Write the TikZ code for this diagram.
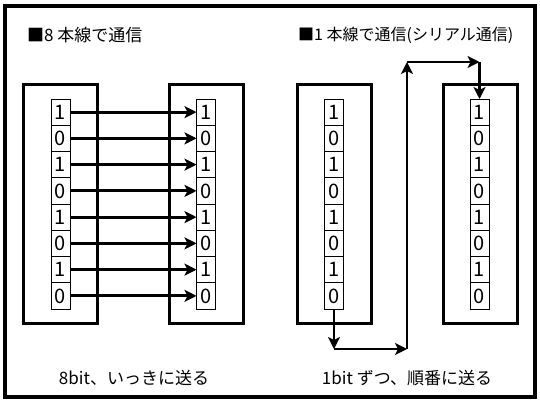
\documentclass[tikz,border=0pt]{standalone}
\usepackage{fontspec}
\setmainfont{Noto Sans CJK JP}
\usetikzlibrary{positioning}
\usetikzlibrary{arrows.meta}
\tikzset{
unitbox/.style={rectangle, draw=black, line width=3pt, minimum width=74pt, minimum height=238pt},
bitcell/.style={rectangle, draw=black, fill=white, line width=0.8pt, minimum width=19pt, minimum height=26.25pt, inner sep=0pt, outer sep=0pt, font=\fontsize{20}{20}\selectfont},
wire/.style={line width=2.8pt, -{Stealth[length=12pt,width=12pt,inset=3pt]}},
caption/.style={font=\fontsize{17}{17}\selectfont, inner sep=0pt}
}

\begin{document}
\begin{tikzpicture}[x=1pt, y=1pt]
\useasboundingbox (0,0) rectangle (540,402);
%Frame
\draw[line width=4pt] (5,5) rectangle (535,396);

%Nodes
\node[unitbox] (send8) at (60,198) {};
\node[unitbox] (recv8) at (206,198) {};
\node[unitbox] (send1) at (334,198) {};
\node[unitbox] (recv1) at (480,198) {};
\foreach \col/\x in {a/60.5, b/206, c/334, d/479.5}
  \foreach \b [count=\i] in {1,0,1,0,1,0,1,0}
    \node[bitcell] (\col\i) at (\x, {316.125-26.25*\i}) {\b};
\node[caption, anchor=west] (title8) at (27,367) {■8 本線で通信};
\node[caption, anchor=west, font=\fontsize{16}{16}\selectfont] (title1) at (298,367) {■1 本線で通信(シリアル通信)};
\node[caption] (note8) at (134,24) {8bit、いっきに送る};
\node[caption] (note1) at (407,24) {1bit ずつ、順番に送る};

%Lines
\foreach \i in {1,...,8}
  \draw[wire] (a\i.east) -- (b\i.west);
\coordinate (turnA) at (407,53);
\coordinate (turnB) at (407,340);
\draw[wire] (c8.south) -- (c8.south |- turnA);
\draw[wire] (c8.south |- turnA) -- (turnA);
\draw[wire] (turnA) -- (turnB);
\draw[wire] (turnB) -- (d1.north |- turnB);
\draw[wire] (d1.north |- turnB) -- (d1.north);

\end{tikzpicture}
\end{document}
